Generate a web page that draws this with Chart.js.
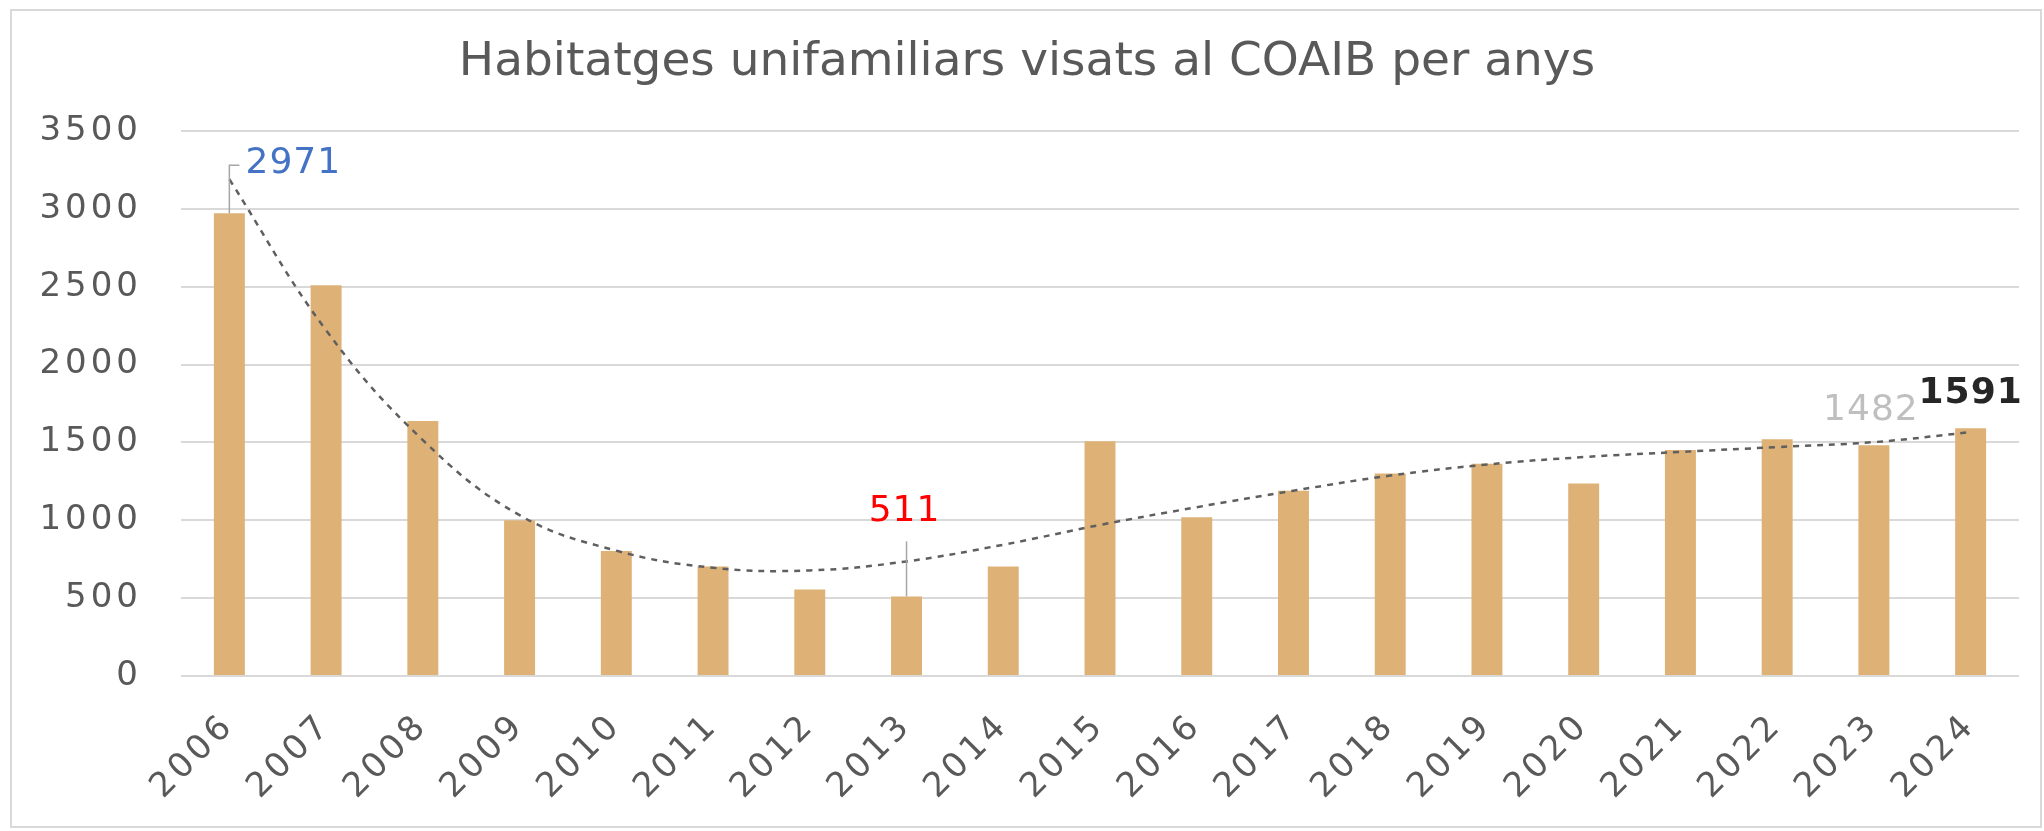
<!DOCTYPE html>
<html>
<head>
<meta charset="utf-8">
<script src="https://cdn.jsdelivr.net/npm/chart.js@4/dist/chart.umd.min.js"></script>
<style>
  html, body { margin: 0; padding: 0; background: #fff; }
  #wrap { position: relative; width: 2044px; height: 831px; }
  #frame { position: absolute; left: 10px; top: 9px; width: 2028px; height: 815px; border: 2px solid #d9d9d9; pointer-events: none; }
</style>
</head>
<body>
<div id="wrap">
  <canvas id="myChart" width="2044" height="831"></canvas>
  <div id="frame"></div>
</div>
<script>
// years on the x axis
var years = ['2006', '2007', '2008', '2009', '2010', '2011', '2012', '2013', '2014', '2015',
             '2016', '2017', '2018', '2019', '2020', '2021', '2022', '2023', '2024'];

// homes per year (bars)
var habitatges = [2971, 2510, 1637, 1000, 802, 703, 556, 511, 703, 1508,
                  1020, 1190, 1300, 1363, 1236, 1452, 1520, 1482, 1591];

// dotted trend line
var tendencia = [3190, 2220, 1515, 1033, 805, 695, 678, 736, 843, 970,
                 1084, 1190, 1287, 1358, 1406, 1439, 1470, 1502, 1566];

// y axis ticks
var yTicks = [0, 500, 1000, 1500, 2000, 2500, 3000, 3500];

var titol = 'Habitatges unifamiliars visats al COAIB per anys';

// which bars get a value label
var labelled = [0, 7, 17, 18];

var tickFont = '"DejaVu Sans", sans-serif';

// letter spacing for the axis digits, reset after each canvas resize
var spacingPlugin = {
    id: 'spacing',
    beforeLayout: function (chart) { chart.ctx.letterSpacing = '4px'; },
    beforeDraw: function (chart) { chart.ctx.letterSpacing = '4px'; }
};

var titlePlugin = {
    id: 'ownTitle',
    afterDraw: function (chart) {
        var ctx = chart.ctx;
        ctx.save();
        ctx.letterSpacing = '0px';
        ctx.font = '47px ' + tickFont;
        ctx.fillStyle = '#595959';
        ctx.textAlign = 'center';
        ctx.textBaseline = 'middle';
        ctx.fillText(titol, 1027, 63);
        ctx.restore();
    }
};

var labelPlugin = {
    id: 'valueLabels',
    afterDatasetsDraw: function (chart, args, opts) {
        var ctx = chart.ctx;
        var xs = chart.scales.x, ys = chart.scales.y;
        ctx.save();
        ctx.letterSpacing = '1px';
        opts.items.forEach(function (it) {
            var i = labelled[it.n];
            var v = habitatges[i];
            var bx = xs.getPixelForValue(i);
            var by = ys.getPixelForValue(v);
            var lx = bx + it.dx, ly = by + it.dy;
            if (it.leader) {
                ctx.strokeStyle = '#a6a6a6';
                ctx.lineWidth = 1.5;
                ctx.beginPath();
                ctx.moveTo(bx, by);
                ctx.lineTo(bx, by + it.leader[0]);
                ctx.lineTo(bx + it.leader[1], by + it.leader[0]);
                ctx.stroke();
            }
            ctx.font = (it.bold ? 'bold ' : '') + '36px ' + tickFont;
            ctx.fillStyle = it.color;
            ctx.textAlign = 'center';
            ctx.textBaseline = 'middle';
            ctx.fillText(String(v), lx, ly);
        });
        ctx.restore();
    }
};

var ctx = document.getElementById('myChart').getContext('2d');
var chart = new Chart(ctx, {
    type: 'bar',
    data: {
        labels: years,
        datasets: [{
            type: 'line',
            data: tendencia,
            borderColor: '#5f5f5f',
            borderWidth: 2.5,
            borderDash: [6, 6],
            pointRadius: 0,
            tension: 0.4,
            fill: false,
            order: 0
        }, {
            data: habitatges,
            backgroundColor: '#deb276',
            barPercentage: 0.32,
            categoryPercentage: 1,
            order: 1
        }]
    },
    options: {
        responsive: false,
        animation: false,
        layout: { padding: { left: 20, right: 25, top: 131, bottom: 10 } },
        plugins: {
            legend: { display: false },
            tooltip: { enabled: false },
            valueLabels: {
                items: [
                    { n: 0, dx: 64, dy: -50, color: '#4472c4', leader: [-48, 10] },
                    { n: 1, dx: -2, dy: -85, color: '#ff0000', leader: [-55, 0] },
                    { n: 2, dx: -3, dy: -35, color: '#bfbfbf' },
                    { n: 3, dx: 0, dy: -35, color: '#262626', bold: true }
                ]
            }
        },
        scales: {
            x: {
                grid: { display: false },
                border: { display: false },
                ticks: {
                    color: '#595959',
                    font: { family: tickFont, size: 34 },
                    maxRotation: 45,
                    minRotation: 45,
                    padding: 22
                },
                afterFit: function (s) { s.height = 145; }
            },
            y: {
                min: 0,
                max: 3500,
                afterBuildTicks: function (s) { s.ticks = yTicks.map(function (v) { return { value: v }; }); },
                grid: { color: '#d9d9d9', lineWidth: 2, drawTicks: false },
                border: { display: false },
                ticks: {
                    color: '#595959',
                    font: { family: tickFont, size: 34 },
                    padding: 39,
                    callback: function (v) { return String(v); }
                },
                afterFit: function (s) { s.width = 161; }
            }
        }
    },
    plugins: [spacingPlugin, labelPlugin, titlePlugin]
});
</script>
</body>
</html>
